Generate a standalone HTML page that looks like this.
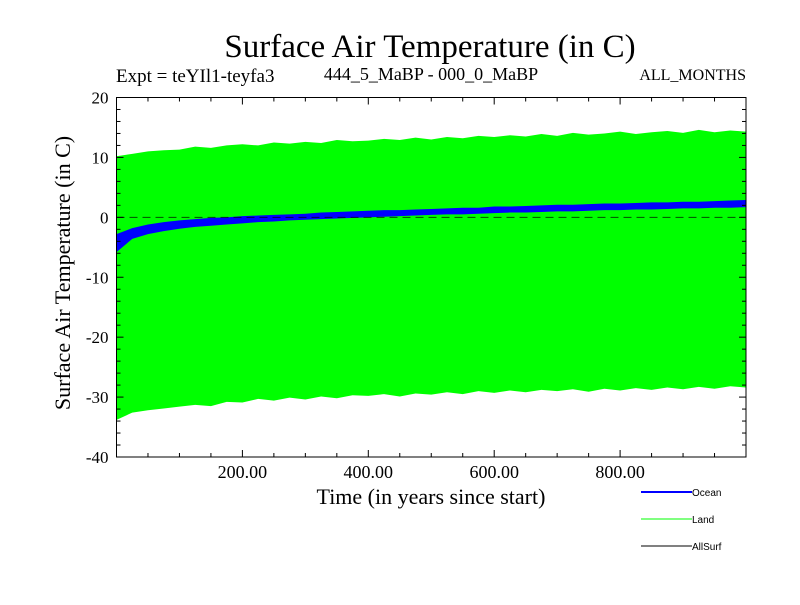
<!DOCTYPE html>
<html><head><meta charset="utf-8"><style>
body{margin:0;background:#fff}
svg text{font-family:"Liberation Serif",serif}
</style></head><body>
<svg id="chart" width="800" height="600" viewBox="0 0 800 600">
<text x="430" y="57" font-size="33" text-anchor="middle">Surface Air Temperature (in C)</text>
<text x="116" y="82" font-size="19">Expt = teYIl1-teyfa3</text>
<text x="431" y="80" font-size="18" text-anchor="middle">444_5_MaBP - 000_0_MaBP</text>
<text x="746" y="80" font-size="16" text-anchor="end">ALL_MONTHS</text>
<g id="plot"></g>
<text x="431" y="504" font-size="22" text-anchor="middle">Time (in years since start)</text>
<text transform="translate(70,273) rotate(-90)" font-size="22" text-anchor="middle">Surface Air Temperature (in C)</text>
<g>
<line x1="641" y1="492" x2="692" y2="492" stroke="#0000ff" stroke-width="2"/>
<text x="692" y="496" font-size="10" style="font-family:'Liberation Sans',sans-serif">Ocean</text>
<line x1="641" y1="519" x2="692" y2="519" stroke="#00ff00" stroke-width="1"/>
<text x="692" y="523" font-size="10" style="font-family:'Liberation Sans',sans-serif">Land</text>
<line x1="641" y1="546" x2="692" y2="546" stroke="#000" stroke-width="1"/>
<text x="692" y="550" font-size="10" style="font-family:'Liberation Sans',sans-serif">AllSurf</text>
</g>
</svg>
<script>
const years=[0,25,50,75,100,125,150,175,200,225,250,275,300,325,350,375,400,425,450,475,500,525,550,575,600,625,650,675,700,725,750,775,800,825,850,875,900,925,950,975,1000];
const landMax=[10.2,10.6,11.0,11.2,11.3,11.8,11.6,12.0,12.2,12.0,12.5,12.3,12.6,12.4,12.9,12.7,12.8,13.1,12.9,13.3,13.0,13.4,13.2,13.6,13.4,13.7,13.5,13.9,13.6,14.1,13.8,14.0,14.3,13.9,14.2,14.4,14.1,14.6,14.2,14.5,14.3];
const landMin=[-33.8,-32.6,-32.2,-31.9,-31.6,-31.3,-31.5,-30.8,-30.9,-30.3,-30.6,-30.1,-30.4,-29.9,-30.2,-29.7,-29.8,-29.5,-29.9,-29.4,-29.6,-29.2,-29.5,-29.0,-29.3,-28.9,-29.2,-28.8,-29.0,-28.7,-29.1,-28.6,-28.9,-28.5,-28.8,-28.4,-28.7,-28.3,-28.6,-28.2,-28.4];
const oceanMax=[-2.8,-1.8,-1.2,-0.8,-0.5,-0.3,-0.1,0.0,0.2,0.3,0.4,0.5,0.6,0.8,0.9,1.0,1.1,1.2,1.2,1.3,1.4,1.5,1.6,1.6,1.8,1.8,1.9,2.0,2.1,2.1,2.2,2.3,2.3,2.4,2.5,2.5,2.6,2.6,2.7,2.8,2.9];
const oceanMin=[-5.8,-3.6,-2.8,-2.3,-1.9,-1.6,-1.4,-1.2,-1.0,-0.8,-0.7,-0.5,-0.4,-0.3,-0.2,-0.1,0.0,0.1,0.2,0.3,0.4,0.5,0.5,0.6,0.7,0.8,0.8,0.9,1.0,1.0,1.1,1.2,1.2,1.3,1.3,1.4,1.5,1.5,1.6,1.6,1.7];
const yTicks=[20,10,0,-10,-20,-30,-40];
const xTicks=[200,400,600,800];
const X0=116.5,X1=746,Y0=97.5,Y1=457;
const sx=v=>X0+(v-0)/(1000-0)*(X1-X0);
const sy=v=>Y0+(20-v)/60*(Y1-Y0);
const NS="http://www.w3.org/2000/svg";
const g=document.getElementById('plot');
function mk(t,a){const e=document.createElementNS(NS,t);for(const k in a)e.setAttribute(k,a[k]);g.appendChild(e);return e;}
function band(hi,lo,col,name){
 let p=years.map((y,i)=>sx(y)+','+sy(hi[i]));
 p=p.concat(years.map((y,i)=>sx(y)+','+sy(lo[i])).reverse());
 const e=mk('polygon',{points:p.join(' '),fill:col});
 
 
}
band(landMax,landMin,'#00ff00','land-band');
band(oceanMax,oceanMin,'#0000ff','ocean-band');
const z=mk('line',{x1:X0,x2:X1,y1:sy(0),y2:sy(0),stroke:'#000','stroke-dasharray':'8,5','stroke-opacity':'0.7'});


const fr=mk('rect',{x:X0,y:Y0,width:X1-X0,height:Y1-Y0,fill:'none',stroke:'#000','stroke-width':1});


for(let v=-40;v<=20;v+=2){const L=v%10===0?7:4;
 mk('line',{x1:X0,x2:X0+L,y1:sy(v),y2:sy(v),stroke:'#000'});
 mk('line',{x1:X1,x2:X1-L,y1:sy(v),y2:sy(v),stroke:'#000'});}
for(let v=50;v<1000;v+=50){const L=v%200===0?7:4;
 mk('line',{x1:sx(v),x2:sx(v),y1:Y1,y2:Y1-L,stroke:'#000'});
 mk('line',{x1:sx(v),x2:sx(v),y1:Y0,y2:Y0+L,stroke:'#000'});}
yTicks.forEach(v=>{const t=mk('text',{x:X0-8,y:sy(v)+6,'font-size':17,'text-anchor':'end'});t.textContent=v;
 
 });
xTicks.forEach(v=>{const t=mk('text',{x:sx(v),y:478,'font-size':18,'text-anchor':'middle'});t.textContent=v.toFixed(2);
 
 });
</script>
</body></html>
